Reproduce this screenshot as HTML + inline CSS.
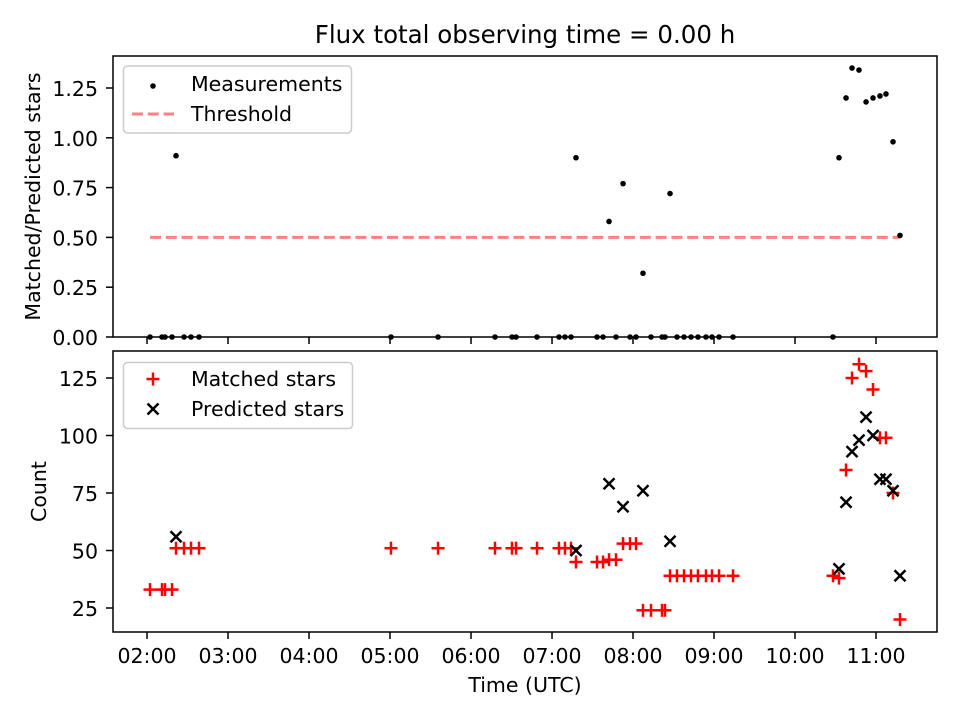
<!DOCTYPE html>
<html><head><meta charset="utf-8"><style>
html,body{margin:0;padding:0;background:#fff}
svg{display:block;font-family:"DejaVu Sans","Liberation Sans",sans-serif}
</style></head><body>
<svg id="chart" width="960" height="720" viewBox="0 0 960 720">
<rect width="960" height="720" fill="#fff"/>
<text x="525" y="43" font-size="24.5" text-anchor="middle">Flux total observing time = 0.00 h</text>
<g id="topPanel"></g>
<g id="botPanel"></g>
</svg>
<script>
const times = [2.037,2.185,2.222,2.309,2.358,2.457,2.543,2.642,5.012,5.593,6.296,6.506,6.556,6.815,7.086,7.160,7.235,7.296,7.556,7.630,7.704,7.790,7.877,7.963,8.037,8.123,8.222,8.358,8.395,8.457,8.543,8.630,8.716,8.802,8.901,8.975,9.062,9.235,10.469,10.543,10.630,10.704,10.790,10.877,10.963,11.049,11.123,11.210,11.296];
const ratio = [0,0,0,0,0.91,0,0,0,0,0,0,0,0,0,0,0,0,0.90,0,0,0.58,0,0.77,0,0,0.32,0,0,0,0.72,0,0,0,0,0,0,0,0,0,0.90,1.20,1.35,1.34,1.18,1.20,1.21,1.22,0.98,0.51];
const matched = [33,33,33,33,51,51,51,51,51,51,51,51,51,51,51,51,51,45,45,45,46,46,53,53,53,24,24,24,24,39,39,39,39,39,39,39,39,39,39,38,85,125,131,128,120,99,99,75,20];
const predicted = [null,null,null,null,56,null,null,null,null,null,null,null,null,null,null,null,null,50,null,null,79,null,69,null,null,76,null,null,null,54,null,null,null,null,null,null,null,null,null,42,71,93,98,108,100,81,81,76,39];
const threshold = 0.5;
const thresholdRange = [2.037,11.296];
const xTicks = [2,3,4,5,6,7,8,9,10,11];
const xTickLabels = ["02:00","03:00","04:00","05:00","06:00","07:00","08:00","09:00","10:00","11:00"];
const topTicks = [0,0.25,0.5,0.75,1.0,1.25];
const topTickLabels = ["0.00","0.25","0.50","0.75","1.00","1.25"];
const botTicks = [25,50,75,100,125];
const botTickLabels = ["25","50","75","100","125"];

const L=113,R=937, T1=56,B1=337, T2=351,B2=632;
const x0=1.580,x1=11.753;
const FS=20.5, TK=7;
const X=v=>L+(v-x0)/(x1-x0)*(R-L);
const Y1=v=>337-v*199.2;
const Y2=v=>608-(v-25)*2.3;
const NS="http://www.w3.org/2000/svg";
function mk(p,tag,attrs,txt){const e=document.createElementNS(NS,tag);for(const k in attrs)e.setAttribute(k,attrs[k]);if(txt!==undefined)e.textContent=txt;p.appendChild(e);return e;}
const topG=document.getElementById('topPanel'), botG=document.getElementById('botPanel');
const DASH={stroke:'#ff8080','stroke-width':3,'stroke-dasharray':'11,4.8'};

// top panel
let th=mk(topG,'line',Object.assign({x1:X(thresholdRange[0]),x2:X(thresholdRange[1]),y1:Y1(threshold),y2:Y1(threshold)},DASH));


times.forEach((t,i)=>{
  const c=mk(topG,'circle',{cx:X(t),cy:Y1(ratio[i]),r:2.8,fill:'#000'});
  
  
});
let r=mk(topG,'rect',{x:L,y:T1,width:R-L,height:B1-T1,fill:'none',stroke:'#000','stroke-width':1.5});


topTicks.forEach((v,i)=>{
  const y=Y1(v);
  mk(topG,'line',{x1:L-TK,x2:L,y1:y,y2:y,stroke:'#000','stroke-width':1.5});
  const tx=mk(topG,'text',{x:L-15,y:y+8,'font-size':FS,'text-anchor':'end'},topTickLabels[i]);
  
  
});
xTicks.forEach(v=>{mk(topG,'line',{x1:X(v),x2:X(v),y1:B1,y2:B1+TK,stroke:'#000','stroke-width':1.5});});
let yl=mk(topG,'text',{x:0,y:0,'font-size':FS,'text-anchor':'middle',transform:`translate(40,${(T1+B1)/2}) rotate(-90)`},'Matched/Predicted stars');


let lg=mk(topG,'g',{});


mk(lg,'rect',{x:123.5,y:66,width:228,height:67,rx:4,fill:'#fff',stroke:'#ccc','stroke-width':1.5});
mk(lg,'circle',{cx:153,cy:86,r:2.8,fill:'#000'});
mk(lg,'text',{x:191,y:91,'font-size':FS},'Measurements');
mk(lg,'line',Object.assign({x1:132,x2:174,y1:114,y2:114},DASH));
mk(lg,'text',{x:191,y:121,'font-size':FS},'Threshold');

// bottom panel
function plus(p,cx,cy){const g=mk(p,'g',{stroke:'#f00','stroke-width':2.5});mk(g,'line',{x1:cx-6.5,x2:cx+6.5,y1:cy,y2:cy});mk(g,'line',{x1:cx,x2:cx,y1:cy-6.5,y2:cy+6.5});return g;}
function cross(p,cx,cy){const g=mk(p,'g',{stroke:'#000','stroke-width':2.5});mk(g,'line',{x1:cx-5.5,x2:cx+5.5,y1:cy-5.5,y2:cy+5.5});mk(g,'line',{x1:cx-5.5,x2:cx+5.5,y1:cy+5.5,y2:cy-5.5});return g;}
times.forEach((t,i)=>{
  const g=plus(botG,X(t),Y2(matched[i]));
  
  
});
times.forEach((t,i)=>{
  if(predicted[i]==null)return;
  const g=cross(botG,X(t),Y2(predicted[i]));
  
  
});
r=mk(botG,'rect',{x:L,y:T2,width:R-L,height:B2-T2,fill:'none',stroke:'#000','stroke-width':1.5});


botTicks.forEach((v,i)=>{
  const y=Y2(v);
  mk(botG,'line',{x1:L-TK,x2:L,y1:y,y2:y,stroke:'#000','stroke-width':1.5});
  const tx=mk(botG,'text',{x:L-15,y:y+8,'font-size':FS,'text-anchor':'end'},botTickLabels[i]);
  
  
});
xTicks.forEach((v,i)=>{
  mk(botG,'line',{x1:X(v),x2:X(v),y1:B2,y2:B2+TK,stroke:'#000','stroke-width':1.5});
  const tx=mk(botG,'text',{x:X(v),y:B2+31,'font-size':FS,'text-anchor':'middle'},xTickLabels[i]);
  
  
});
yl=mk(botG,'text',{x:0,y:0,'font-size':FS,'text-anchor':'middle',transform:`translate(46,${(T2+B2)/2}) rotate(-90)`},'Count');


let xl=mk(botG,'text',{x:(L+R)/2,y:692,'font-size':FS,'text-anchor':'middle'},'Time (UTC)');


lg=mk(botG,'g',{});


mk(lg,'rect',{x:123.5,y:362.5,width:229,height:66,rx:4,fill:'#fff',stroke:'#ccc','stroke-width':1.5});
plus(lg,153,379);
mk(lg,'text',{x:191,y:386,'font-size':FS},'Matched stars');
cross(lg,153,409);
mk(lg,'text',{x:191,y:416,'font-size':FS},'Predicted stars');
</script>
</body></html>
